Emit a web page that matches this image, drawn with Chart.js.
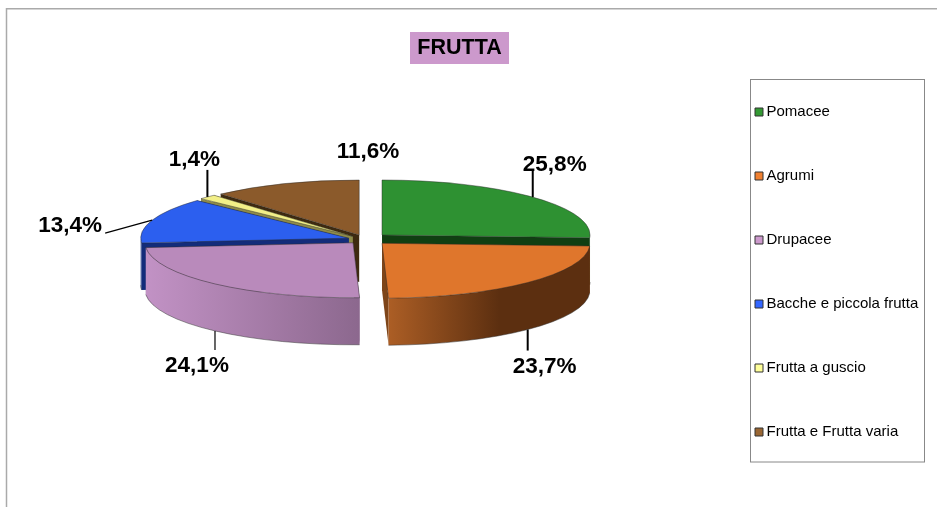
<!DOCTYPE html>
<html>
<head>
<meta charset="utf-8">
<title>FRUTTA</title>
<script src="https://cdn.jsdelivr.net/npm/chart.js@4"></script>
<style>
    html, body { margin: 0; padding: 0; background: #fff; }
    canvas { display: block; }
</style>
</head>
<body>
<canvas id="frutta" width="937" height="507"></canvas>
<script>
const categories = ['Pomacee', 'Agrumi', 'Drupacee', 'Bacche e piccola frutta', 'Frutta a guscio', 'Frutta e Frutta varia'];
const values = [25.8, 23.7, 24.1, 13.4, 1.4, 11.6];

const legendColors = ['#339933', '#F08030', '#CC99CC', '#3366FF', '#FFFF99', '#996633'];
const topColors = ['#2E9132', '#DF762C', '#B98ABB', '#2C5FEF', '#F2EF88', '#8B5A2B'];
const cutColors = ['#103F12', '#7E4519', '#8E6A90', '#132C7A', '#8E8B4A', '#3E2A10'];
const wallColors = [
    ['#103F12', '#103F12'],
    ['#AC5E25', '#5C2F10'],
    ['#C292C5', '#8C688E'],
    ['#132C7A', '#132C7A'],
    ['#8E8B4A', '#8E8B4A'],
    ['#3E2A10', '#3E2A10']
];
const explode = [116, 120, 48, 52, 48, 20];
const nudgeY = [0, 0, 2, 0, -1, -3];
const paintOrder = [5, 4, 3, 0, 2, 1];

const leaderEnds = [[0, -27], [0, 21], [0, 19], [-47, 13], [0, -27], null];
const leaderWidths = [2, 2, 1.2, 1.2, 2, 0];
const labelOffsets = [[22, -32.5], [17, 37], [-18, 35], [-82, 6], [-13, -37], [83, -32]];

const pie = {x: 361, y: 239, rx: 208, ry: 55, depth: 47};
const FONT = '"Liberation Sans", Arial, sans-serif';

function sliceGeometry(arc, i) {
    const mid = (arc.startAngle + arc.endAngle) / 2;
    const off = arc.options.offset / 4;
    return {
        x: pie.x + Math.cos(mid) * off,
        y: pie.y + Math.sin(mid) * off * 0.2 + nudgeY[i],
        mid: mid,
        a0: arc.startAngle,
        a1: arc.endAngle
    };
}

function cutFace(ctx, g, angle, color) {
    const ex = g.x + pie.rx * Math.cos(angle);
    const ey = g.y + pie.ry * Math.sin(angle);
    ctx.beginPath();
    ctx.moveTo(g.x, g.y);
    ctx.lineTo(ex, ey);
    ctx.lineTo(ex, ey + pie.depth);
    ctx.lineTo(g.x, g.y + pie.depth);
    ctx.closePath();
    ctx.fillStyle = color;
    ctx.fill();
}

function outerWall(ctx, g, colors) {
    // only the part of the rim that faces the viewer
    const a0 = Math.max(g.a0, 0);
    const a1 = Math.min(g.a1, Math.PI);
    if (a1 <= a0) return;
    const x0 = g.x + pie.rx * Math.cos(a1);
    const x1 = g.x + pie.rx * Math.cos(a0);
    const grad = ctx.createLinearGradient(Math.min(x0, x1), 0, Math.max(x0, x1), 0);
    grad.addColorStop(0, colors[0]);
    if (g.mid < Math.PI / 2) grad.addColorStop(0.55, colors[1]);
    grad.addColorStop(1, colors[1]);
    ctx.beginPath();
    ctx.ellipse(g.x, g.y, pie.rx, pie.ry, 0, a0, a1);
    ctx.ellipse(g.x, g.y + pie.depth, pie.rx, pie.ry, 0, a1, a0, true);
    ctx.closePath();
    ctx.fillStyle = grad;
    ctx.fill();
    ctx.beginPath();
    ctx.ellipse(g.x, g.y + pie.depth, pie.rx, pie.ry, 0, a1, a0, true);
    ctx.strokeStyle = 'rgba(50,50,50,0.7)';
    ctx.lineWidth = 0.7;
    ctx.stroke();
}

function topFace(ctx, g, color) {
    ctx.beginPath();
    ctx.moveTo(g.x, g.y);
    ctx.ellipse(g.x, g.y, pie.rx, pie.ry, 0, g.a0, g.a1);
    ctx.closePath();
    ctx.fillStyle = color;
    ctx.fill();
    ctx.strokeStyle = 'rgba(40,40,40,0.65)';
    ctx.lineWidth = 0.7;
    ctx.stroke();
}

const pie3d = {
    id: 'pie3d',
    afterLayout(chart) {
        const legend = chart.legend;
        legend.left = 710;
        legend.right = 937;
        legend.top = 55.5;
        legend.bottom = 507;
    },
    beforeDraw(chart) {
        const ctx = chart.ctx;
        ctx.save();
        ctx.fillStyle = '#fff';
        ctx.fillRect(0, 0, 937, 507);
        // frame of the sheet
        ctx.strokeStyle = '#aaa';
        ctx.lineWidth = 1.5;
        ctx.beginPath();
        ctx.moveTo(6.5, 507);
        ctx.lineTo(6.5, 8.75);
        ctx.lineTo(937, 8.75);
        ctx.stroke();
        // title background
        ctx.fillStyle = '#CC99CC';
        ctx.fillRect(410, 32, 99, 32);
        // legend box
        ctx.strokeStyle = '#888';
        ctx.lineWidth = 1;
        ctx.strokeRect(750.5, 79.5, 174, 382.5);
        ctx.restore();
    },
    beforeDatasetsDraw(chart) {
        const ctx = chart.ctx;
        const arcs = chart.getDatasetMeta(0).data;
        ctx.save();
        for (const i of paintOrder) {
            const g = sliceGeometry(arcs[i], i);
            cutFace(ctx, g, g.a0, cutColors[i]);
            cutFace(ctx, g, g.a1, cutColors[i]);
            outerWall(ctx, g, wallColors[i]);
            topFace(ctx, g, topColors[i]);
        }
        ctx.textAlign = 'center';
        ctx.textBaseline = 'middle';
        ctx.font = 'bold 22.5px ' + FONT;
        ctx.fillStyle = '#000';
        ctx.strokeStyle = '#000';
        arcs.forEach(function (arc, i) {
            const g = sliceGeometry(arc, i);
            const front = Math.sin(g.mid) > 0 ? pie.depth : 0;
            const ax = g.x + pie.rx * Math.cos(g.mid);
            const ay = g.y + pie.ry * Math.sin(g.mid) + front;
            if (leaderEnds[i]) {
                ctx.beginPath();
                ctx.moveTo(ax, ay);
                ctx.lineTo(ax + leaderEnds[i][0], ay + leaderEnds[i][1]);
                ctx.lineWidth = leaderWidths[i];
                ctx.stroke();
            }
            const text = values[i].toFixed(1).replace('.', ',') + '%';
            ctx.fillText(text, ax + labelOffsets[i][0], ay + labelOffsets[i][1]);
        });
        ctx.restore();
        return false;
    }
};

new Chart(document.getElementById('frutta'), {
    type: 'pie',
    data: {
        labels: categories,
        datasets: [{
            data: values,
            backgroundColor: legendColors,
            borderColor: '#333',
            borderWidth: 1,
            offset: explode
        }]
    },
    plugins: [pie3d],
    options: {
        responsive: false,
        animation: false,
        layout: {padding: {right: 18}},
        plugins: {
            tooltip: {enabled: false},
            title: {
                display: true,
                text: 'FRUTTA',
                color: '#000',
                font: {family: FONT, size: 21.5, weight: 'bold'},
                padding: {top: 35.5, bottom: 0}
            },
            legend: {
                position: 'right',
                align: 'start',
                labels: {
                    color: '#000',
                    font: {family: FONT, size: 15},
                    usePointStyle: true,
                    pointStyle: 'rect',
                    boxWidth: 0.01,
                    boxHeight: 8,
                    padding: 49
                }
            }
        }
    }
});
</script>
</body>
</html>
